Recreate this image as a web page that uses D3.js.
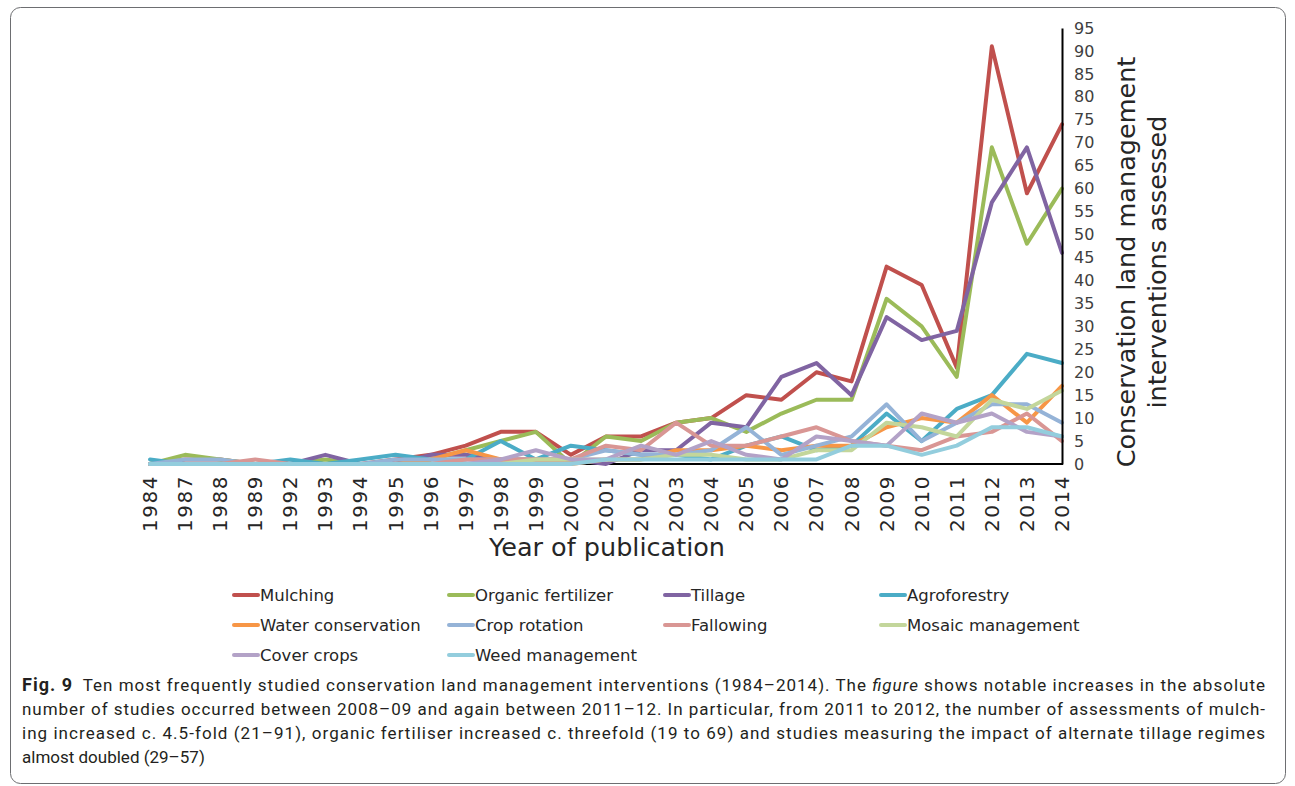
<!DOCTYPE html>
<html>
<head>
<meta charset="utf-8">
<script src="https://cdn.jsdelivr.net/npm/d3@7"></script>
<style>
  body { margin: 0; background: #fff; }
  svg { display: block; }
</style>
</head>
<body>
<script>
// Data
const years = ["1984","1987","1988","1989","1992","1993","1994","1995","1996","1997","1998","1999","2000",
  "2001","2002","2003","2004","2005","2006","2007","2008","2009","2010","2011","2012","2013","2014"];

const mulching      = [0,1,1,0,0,0,0,1,2,4,7,7,2,6,6,9,10,15,14,20,18,43,39,21,91,59,74];
const organicFert   = [0,2,1,0,0,1,0,0,1,3,5,7,0,6,5,9,10,7,11,14,14,36,30,19,69,48,60];
const tillage       = [0,0,0,0,0,2,0,0,2,2,1,1,1,0,3,3,9,8,19,22,15,32,27,29,57,69,46];
const agroforestry  = [1,0,0,0,1,0,1,2,1,1,5,1,4,3,2,2,1,4,6,3,4,11,5,12,15,24,22];
const waterCons     = [0,0,0,0,0,0,0,0,1,3,1,1,0,1,1,3,3,4,3,4,4,8,10,9,15,9,17];
const cropRotation  = [0,1,1,0,0,0,0,1,1,1,1,1,1,3,2,2,3,8,2,4,6,13,5,9,13,13,9];
const fallowing     = [0,0,0,1,0,0,0,0,0,1,1,1,1,4,3,9,4,4,6,8,5,4,3,6,7,11,5];
const mosaicMgmt    = [0,0,0,0,0,0,0,0,0,0,0,1,1,1,1,2,2,1,1,3,3,9,8,6,14,12,16];
const coverCrops    = [0,0,0,0,0,0,0,0,0,0,1,3,1,1,4,2,5,2,1,6,5,4,11,9,11,7,6];
const weedMgmt      = [0,0,0,0,0,0,0,0,0,0,0,0,0,1,1,1,1,1,1,1,4,4,2,4,8,8,6];

const seriesNames = ["Mulching","Organic fertilizer","Tillage","Agroforestry","Water conservation",
  "Crop rotation","Fallowing","Mosaic management","Cover crops","Weed management"];
const seriesValues = [mulching, organicFert, tillage, agroforestry, waterCons,
  cropRotation, fallowing, mosaicMgmt, coverCrops, weedMgmt];
const colors = ["#C0504D","#9BBB59","#8064A2","#4BACC6","#F79646",
  "#95B3D7","#D99694","#C3D69B","#B3A2C7","#93CDDD"];
const yTicks = d3.range(0, 100, 5);

const captionLines = [
  "Ten most frequently studied conservation land management interventions (1984\u20132014). The ",
  "number of studies occurred between 2008\u201309 and again between 2011\u201312. In particular, from 2011 to 2012, the number of assessments of mulch-",
  "ing increased c. 4.5-fold (21\u201391), organic fertiliser increased c. threefold (19 to 69) and studies measuring the impact of alternate tillage regimes",
  "almost doubled (29\u201357)"
];

// Layout
const width = 1295, height = 786;
const chartFont = "'DejaVu Sans', sans-serif";
const capFont = "'Liberation Sans Narrow', 'Roboto', sans-serif";

const svg = d3.select("body").append("svg")
  .attr("width", width)
  .attr("height", height);

// outer frame
svg.append("rect")
  .attr("x", 10.5).attr("y", 7.5)
  .attr("width", 1275).attr("height", 776)
  .attr("rx", 10).attr("ry", 10)
  .attr("fill", "none")
  .attr("stroke", "#6d6e71")
  .attr("stroke-width", 1);

const x = d3.scalePoint().domain(years).range([150, 1062]);
const y = d3.scaleLinear().domain([0, 95]).range([464, 28]);

// baseline under the lines
svg.append("line")
  .attr("x1", 150).attr("x2", 1063)
  .attr("y1", 464).attr("y2", 464)
  .attr("stroke", "#000").attr("stroke-width", 2);

// lines
const line = d3.line()
  .x((d, i) => x(years[i]))
  .y(d => y(d));

svg.append("g").selectAll("path")
  .data(seriesValues)
  .enter()
  .append("path")
  .attr("d", d => line(d))
  .attr("fill", "none")
  .attr("stroke", (d, i) => colors[i])
  .attr("stroke-width", 4)
  .attr("stroke-linejoin", "round")
  .attr("stroke-linecap", "round");

// axes
const yAxis = svg.append("g")
  .attr("transform", "translate(1062,0)")
  .call(d3.axisRight(y).tickValues(yTicks).tickSize(0).tickPadding(12));
yAxis.select(".domain").attr("stroke", "#000").attr("stroke-width", 2);
yAxis.selectAll("text")
  .attr("font-family", chartFont)
  .attr("font-size", 16)
  .attr("fill", "#404040");

svg.append("g").selectAll("text")
  .data(years)
  .enter()
  .append("text")
  .attr("transform", d => `translate(${x(d)},475) rotate(-90)`)
  .attr("text-anchor", "end")
  .attr("dy", "0.35em")
  .attr("font-family", chartFont)
  .attr("font-size", 20)
  .attr("letter-spacing", 1.5)
  .attr("fill", "#262626")
  .text(d => d);

// axis titles
svg.append("text")
  .attr("x", 607).attr("y", 556)
  .attr("text-anchor", "middle")
  .attr("font-family", chartFont)
  .attr("font-size", 25.5)
  .attr("fill", "#262626")
  .text("Year of publication");

const yTitle = svg.append("text")
  .attr("transform", "translate(1135,262) rotate(-90)")
  .attr("text-anchor", "middle")
  .attr("font-family", chartFont)
  .attr("font-size", 25.5)
  .attr("fill", "#262626");
yTitle.append("tspan").attr("x", 0).attr("dy", 0).text("Conservation land management");
yTitle.append("tspan").attr("x", 0).attr("dy", 31).text("interventions assessed");

// legend
const legendX = [234, 449, 665, 881];
const legendY = [595, 625, 655];
const legend = svg.append("g").selectAll("g")
  .data(seriesNames)
  .enter()
  .append("g")
  .attr("transform", (d, i) => `translate(${legendX[i % 4]},${legendY[Math.floor(i / 4)]})`);
legend.append("line")
  .attr("x1", 0).attr("x2", 24)
  .attr("stroke", (d, i) => colors[i])
  .attr("stroke-width", 4)
  .attr("stroke-linecap", "round");
legend.append("text")
  .attr("x", 26)
  .attr("dy", "0.35em")
  .attr("font-family", chartFont)
  .attr("font-size", 16.5)
  .attr("fill", "#262626")
  .text(d => d);

// caption
const capY = [691, 715, 739, 763];
const cap = svg.append("g")
  .attr("font-family", capFont)
  .attr("font-size", 17)
  .attr("fill", "#231f20");

const first = cap.append("text").attr("x", 22).attr("y", capY[0])
  .attr("textLength", 1243).attr("lengthAdjust", "spacing");
first.append("tspan").attr("font-weight", "bold").attr("font-size", 18).text("Fig. 9");
first.append("tspan").text("\u2002" + captionLines[0]);
first.append("tspan").attr("font-style", "italic").text("figure");
first.append("tspan").text(" shows notable increases in the absolute");

cap.selectAll("text.rest")
  .data(captionLines.slice(1))
  .enter()
  .append("text")
  .attr("class", "rest")
  .attr("x", 22)
  .attr("y", (d, i) => capY[i + 1])
  .each(function(d, i) {
    if (i < 2) d3.select(this).attr("textLength", 1243).attr("lengthAdjust", "spacing");
  })
  .text(d => d);
</script>
</body>
</html>
